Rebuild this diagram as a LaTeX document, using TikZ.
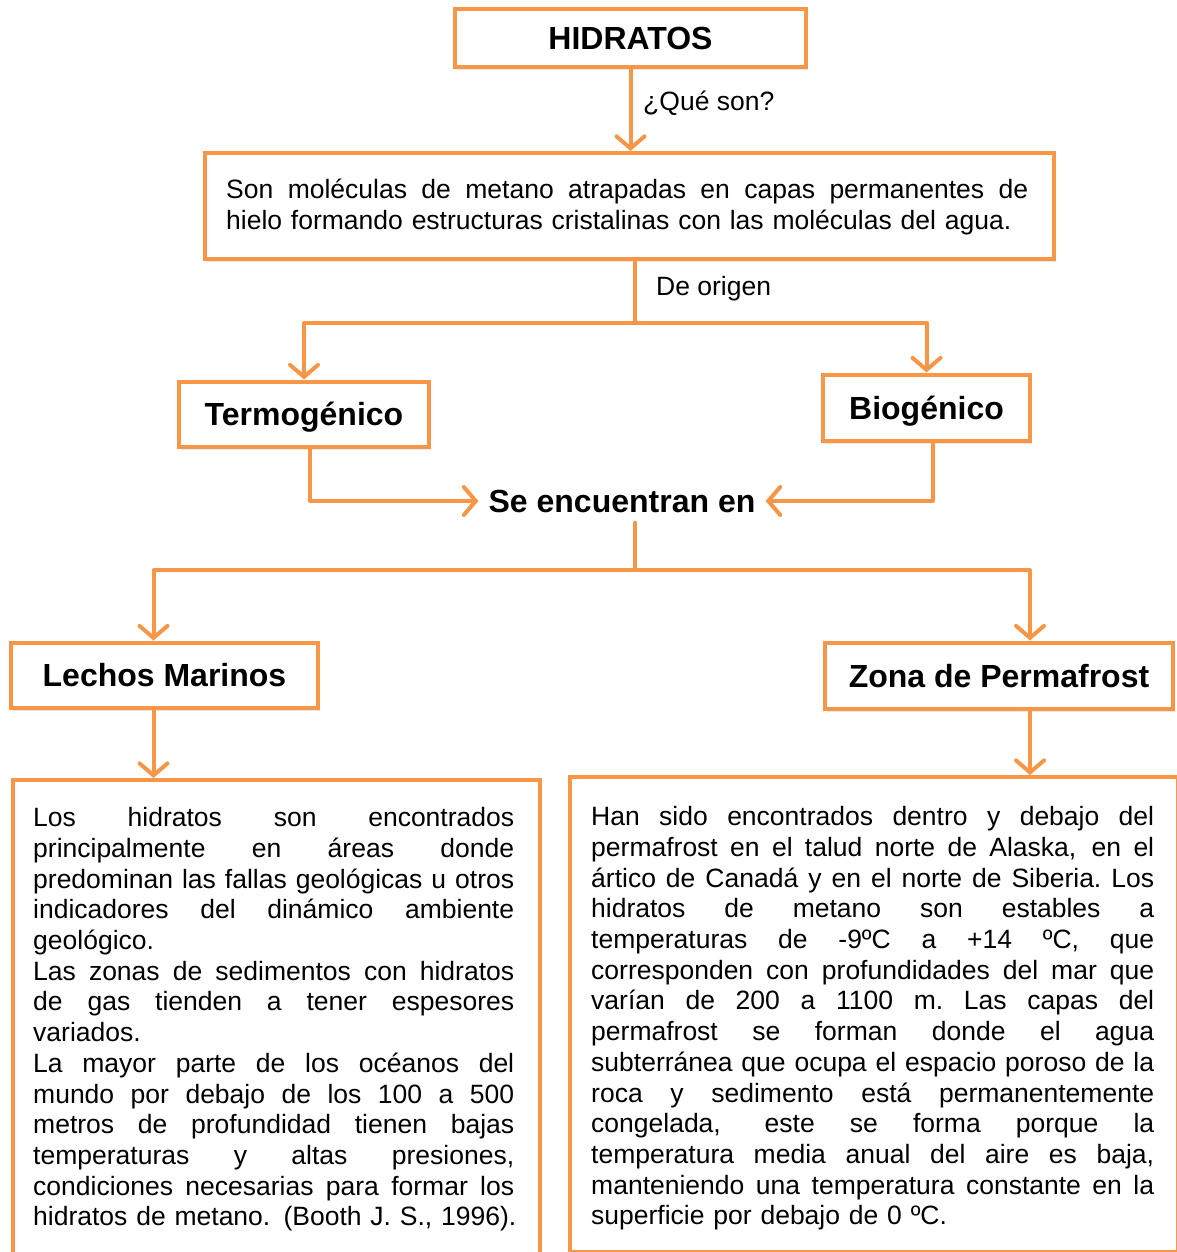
\documentclass[tikz,border=0pt]{standalone}
\usepackage{fontspec}
\setmainfont{Liberation Sans}
\usetikzlibrary{arrows.meta,shadows}
\definecolor{naranja}{HTML}{F79646}
\setlength{\parindent}{0pt}
\newcommand{\jl}[1]{\makebox[\hsize][s]{\spaceskip=0pt plus 1fil\xspaceskip=0pt plus 1fil\relax\strut #1}\\}
\newcommand{\fl}[1]{\makebox[\hsize][l]{\strut #1}}
\tikzset{
  marco/.style={draw=naranja,line width=4pt,fill=white,
    drop shadow={opacity=0.18,shadow xshift=2pt,shadow yshift=-3pt}},
  titulo/.style={font=\fontsize{32}{36}\selectfont\bfseries,text height=23pt,text depth=0pt},
  cuerpo/.style={font=\fontsize{26.5}{30.7}\selectfont,inner sep=0pt},
  linea/.style={draw=naranja,line width=4pt,line cap=round,line join=round},
  flecha/.style={linea,-{Straight Barb[length=12pt,width=28pt,line cap=round]}}
}
\begin{document}
\begin{tikzpicture}[x=1pt,y=-1pt]
\clip[use as bounding box] (0,0) rectangle (1177,1252);
\node[marco,titulo,minimum width=351pt,minimum height=58pt] (hid) at (630.5,38) {HIDRATOS};
\node[marco,minimum width=849pt,minimum height=106pt] (def) at (629.5,206) {};
\node[marco,titulo,minimum width=250pt,minimum height=65pt] (termo) at (304,414) {Termogénico};
\node[marco,titulo,minimum width=207pt,minimum height=66pt] (bio) at (926.5,407.5) {Biogénico};
\node[titulo,inner sep=10pt] (enc) at (622,501) {Se encuentran en};
\node[marco,titulo,minimum width=307pt,minimum height=65pt] (lechos) at (164.5,675) {Lechos Marinos};
\node[marco,titulo,minimum width=348pt,minimum height=66pt] (zona) at (999,675.5) {Zona de Permafrost};
\node[marco,minimum width=527pt,minimum height=500pt,anchor=north west] (mar) at (11,778) {};
\node[marco,minimum width=608pt,minimum height=475pt,anchor=north west] (perma) at (568,775) {};
\node[cuerpo,text width=802pt,anchor=north west] (deftxt) at ([xshift=23pt,yshift=-26pt]def.north west) {%
\jl{Son moléculas de metano atrapadas en capas permanentes de}
\fl{hielo formando estructuras cristalinas con las moléculas del agua.}};
\node[cuerpo,text width=481pt,anchor=north west] (martxt) at ([xshift=22pt,yshift=-27pt]mar.north west) {%
\jl{Los hidratos son encontrados}
\jl{principalmente en áreas donde}
\jl{predominan las fallas geológicas u otros}
\jl{indicadores del dinámico ambiente}
\fl{geológico.}\\
\jl{Las zonas de sedimentos con hidratos}
\jl{de gas tienden a tener espesores}
\fl{variados.}\\
\jl{La mayor parte de los océanos del}
\jl{mundo por debajo de los 100 a 500}
\jl{metros de profundidad tienen bajas}
\jl{temperaturas y altas presiones,}
\jl{condiciones necesarias para formar los}
\fl{hidratos de metano. (Booth J. S., 1996).}};
\node[cuerpo,text width=563pt,anchor=north west] (permatxt) at ([xshift=23pt,yshift=-29pt]perma.north west) {%
\jl{Han sido encontrados dentro y debajo del}
\jl{permafrost en el talud norte de Alaska, en el}
\jl{ártico de Canadá y en el norte de Siberia. Los}
\jl{hidratos de metano son estables a}
\jl{temperaturas de -9ºC a +14 ºC, que}
\jl{corresponden con profundidades del mar que}
\jl{varían de 200 a 1100 m. Las capas del}
\jl{permafrost se forman donde el agua}
\jl{subterránea que ocupa el espacio poroso de la}
\jl{roca y sedimento está permanentemente}
\jl{congelada, este se forma porque la}
\jl{temperatura media anual del aire es baja,}
\jl{manteniendo una temperatura constante en la}
\fl{superficie por debajo de 0 ºC.}};
\node[cuerpo,anchor=west] (que) at (643,103) {¿Qué son?};
\node[cuerpo,anchor=west] (orig) at (656,289) {De origen};
\coordinate (c1) at (635,323);
\coordinate (c2) at (635,570);
\coordinate (lm) at ([xshift=-11pt]lechos.south);
\coordinate (zp) at ([xshift=31pt]zona.south);
\draw[flecha] (hid.south) -- (hid.south |- def.north);
\draw[linea] (def.south -| c1) -- (c1);
\draw[flecha] (c1) -| (termo);
\draw[flecha] (c1) -| (bio);
\draw[flecha] ([xshift=6pt]termo.south) |- (enc.west);
\draw[flecha] ([xshift=6pt]bio.south) |- (enc.east);
\draw[linea] (enc.south -| c2) -- (c2);
\draw[flecha] (c2) -| (lm |- lechos.north);
\draw[flecha] (c2) -| (zp |- zona.north);
\draw[flecha] (lm) -- (lm |- mar.north);
\draw[flecha] (zp) -- (zp |- perma.north);
\end{tikzpicture}
\end{document}
